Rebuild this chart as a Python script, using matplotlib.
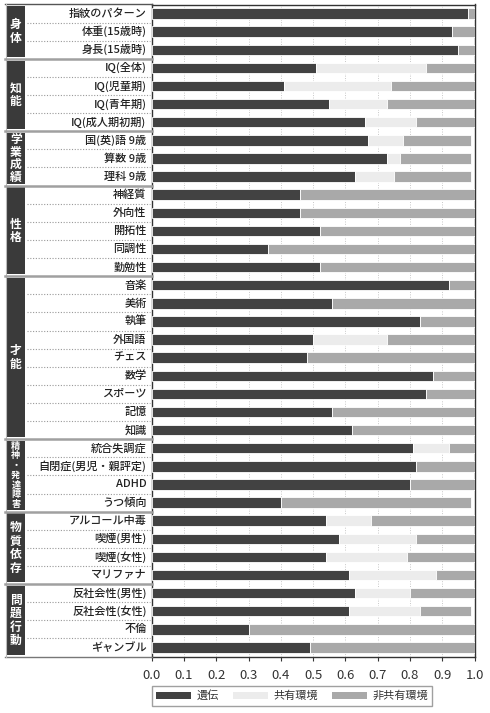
import matplotlib.pyplot as plt
from matplotlib.patches import Rectangle, Patch

plt.rcParams['font.family'] = ['Noto Sans CJK JP', 'DejaVu Sans']

labels = ['指紋のパターン', '体重(15歳時)', '身長(15歳時)',
          'IQ(全体)', 'IQ(児童期)', 'IQ(青年期)', 'IQ(成人期初期)',
          '国(英)語 9歳', '算数 9歳', '理科 9歳',
          '神経質', '外向性', '開拓性', '同調性', '勤勉性',
          '音楽', '美術', '執筆', '外国語', 'チェス', '数学', 'スポーツ', '記憶', '知識',
          '統合失調症', '自閉症(男児・親評定)', 'ADHD', 'うつ傾向',
          'アルコール中毒', '喫煙(男性)', '喫煙(女性)', 'マリファナ',
          '反社会性(男性)', '反社会性(女性)', '不倫', 'ギャンブル']

genetic = [0.98, 0.93, 0.95,
           0.51, 0.41, 0.55, 0.66,
           0.67, 0.73, 0.63,
           0.46, 0.46, 0.52, 0.36, 0.52,
           0.92, 0.56, 0.83, 0.50, 0.48, 0.87, 0.85, 0.56, 0.62,
           0.81, 0.82, 0.80, 0.40,
           0.54, 0.58, 0.54, 0.61,
           0.63, 0.61, 0.30, 0.49]
shared = [0, 0, 0,
          0.34, 0.33, 0.18, 0.16,
          0.11, 0.04, 0.12,
          0, 0, 0, 0, 0,
          0, 0, 0, 0.23, 0, 0, 0, 0, 0,
          0.11, 0, 0, 0,
          0.14, 0.24, 0.25, 0.27,
          0.17, 0.22, 0, 0]
nonshared = [0.02, 0.07, 0.05,
             0.15, 0.26, 0.27, 0.18,
             0.21, 0.22, 0.24,
             0.54, 0.54, 0.48, 0.64, 0.48,
             0.08, 0.44, 0.17, 0.27, 0.52, 0.13, 0.15, 0.44, 0.38,
             0.08, 0.18, 0.20, 0.59,
             0.32, 0.18, 0.21, 0.12,
             0.20, 0.16, 0.70, 0.51]

groups = ['身体', '知能', '学業成績', '性格', '才能', '精神・発達障害', '物質依存', '問題行動']
group_sizes = [3, 4, 3, 5, 9, 4, 4, 4]

legend_labels = ['遺伝', '共有環境', '非共有環境']
colors = ['#424242', '#ececec', '#a9a9a9']

W, H = 490, 713
fig = plt.figure(figsize=(W / 100, H / 100), dpi=100)
ax_l, ax_r, ax_t, ax_b = 151.7, 474.5, 4.5, 656.5
ax = fig.add_axes([ax_l / W, 1 - ax_b / H, (ax_r - ax_l) / W, (ax_b - ax_t) / H])
lax = fig.add_axes([5 / W, 1 - ax_b / H, (ax_l - 5) / W, (ax_b - ax_t) / H], sharey=ax)

n = len(labels)
y = list(range(n))
left2 = [g for g in genetic]
left3 = [g + s for g, s in zip(genetic, shared)]
bh = 0.58
ax.barh(y, genetic, height=bh, color=colors[0], edgecolor='white', linewidth=0.6, zorder=3)
ax.barh(y, shared, left=left2, height=bh, color=colors[1], edgecolor='white', linewidth=0.6, zorder=3)
ax.barh(y, nonshared, left=left3, height=bh, color=colors[2], edgecolor='white', linewidth=0.6, zorder=3)

ax.set_xlim(0, 1)
ax.set_ylim(n - 0.5, -0.5)
ticks = [i / 10 for i in range(11)]
ax.set_xticks(ticks)
ax.set_xticklabels([f'{t:.1f}' for t in ticks], fontsize=9.5, color='#333333',
                   family=['Liberation Sans Narrow', 'Noto Sans CJK JP'])
ax.tick_params(axis='x', length=3, width=0.8, color='#333333', pad=6)
ax.tick_params(axis='y', left=False, labelleft=False)
ax.xaxis.grid(True, linestyle=(0, (1, 1.5)), color='#c8c8c8', linewidth=0.7, zorder=0)
for sp in ax.spines.values():
    sp.set_color('#333333')
    sp.set_linewidth(1.0)

# left label panel
lax.set_xlim(0, 1)
lax.axis('off')
lax.plot([0, 1], [-0.5, -0.5], color='#555555', lw=1.0, clip_on=False)
lax.plot([0, 1], [n - 0.5, n - 0.5], color='#777777', lw=1.0, clip_on=False)
lax.plot([0.004, 0.004], [-0.5, n - 0.5], color='#bbbbbb', lw=0.8, clip_on=False)

for i, lab in enumerate(labels):
    lax.text(0.965, i, lab, ha='right', va='center', fontsize=8, color='#222222',
             fontweight='medium')

row_px = (ax_b - ax_t) / n
start = 0
for gi, (g, size) in enumerate(zip(groups, group_sizes)):
    top = start - 0.5
    bot = start + size - 0.5
    if gi > 0:
        lax.plot([0, 1], [top, top], color='#a0a0a0', lw=1.8, clip_on=False)
    for k in range(1, size):
        lax.plot([0.15, 0.99], [top + k, top + k], color='#999999', lw=0.8,
                 linestyle=(0, (1, 1.5)))
    lax.add_patch(Rectangle((0.012, top + 0.1), 0.124, size - 0.2, color='#3a3a3a', lw=0))
    chars = list(g)
    h_px = size * row_px
    s_px = min(13.5, (h_px - 4) / len(chars))
    fs = 8.5 if s_px >= 12 else 6.6
    s = s_px / row_px
    center = (top + bot) / 2
    for ci, ch in enumerate(chars):
        cy = center + (ci - (len(chars) - 1) / 2) * s
        lax.text(0.074, cy, ch, ha='center', va='center', fontsize=fs,
                 color='white', fontweight='bold')
    start += size

handles = [Patch(facecolor=c, edgecolor='none') for c in colors]
leg = fig.legend(handles, legend_labels, loc='upper left', ncol=3,
                 bbox_to_anchor=(152 / W, 1 - 686 / H), fontsize=8,
                 handlelength=3.1, handleheight=0.6, handletextpad=0.5,
                 columnspacing=1.3, borderpad=0.4, borderaxespad=0,
                 fancybox=False, frameon=True)
leg.get_frame().set_edgecolor('#888888')
leg.get_frame().set_linewidth(1.0)
for t in leg.get_texts():
    t.set_color('#333333')

fig.savefig('out.png', dpi=100)
